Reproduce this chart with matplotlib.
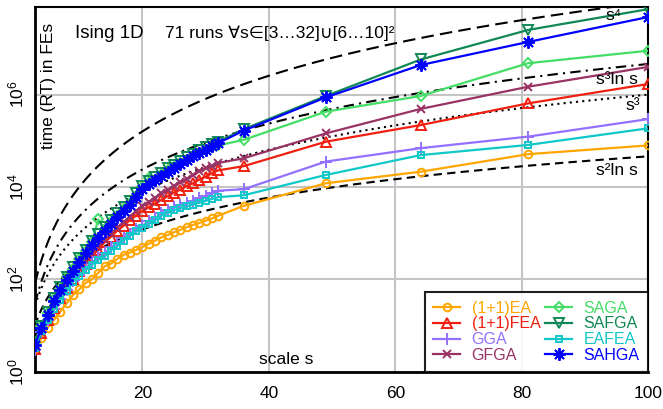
import numpy as np
import matplotlib
matplotlib.use("Agg")
import matplotlib.pyplot as plt

plt.rcParams['font.family'] = ['Liberation Sans', 'DejaVu Sans']
plt.rcParams['mathtext.default'] = 'regular'

# problem scales s
scales = list(range(3, 33)) + [36, 49, 64, 81, 100]

# log10 of runtime (FEs)
ea_log = [0.50, 0.72, 0.95, 1.12, 1.30, 1.48, 1.66, 1.78, 1.92, 2.00,
          2.14, 2.28, 2.34, 2.44, 2.53, 2.58, 2.64, 2.70, 2.77, 2.84,
          2.91, 2.96, 3.02, 3.07, 3.13, 3.18, 3.22, 3.27, 3.32, 3.38,
          3.59, 4.08, 4.33, 4.71, 4.90]
fea_log = [0.50, 0.84, 1.12, 1.38, 1.60, 1.82, 2.00, 2.18, 2.34, 2.50,
           2.64, 2.80, 2.92, 3.05, 3.16, 3.28, 3.38, 3.48, 3.56, 3.64,
           3.72, 3.80, 3.88, 3.94, 4.02, 4.08, 4.16, 4.22, 4.30, 4.36,
           4.45, 4.98, 5.34, 5.81, 6.23]
gga_log = [0.48, 0.86, 1.12, 1.36, 1.58, 1.76, 1.96, 2.10, 2.24, 2.36,
           2.48, 2.56, 2.70, 2.78, 2.90, 2.98, 3.10, 3.16, 3.26, 3.32,
           3.44, 3.50, 3.56, 3.60, 3.66, 3.70, 3.76, 3.80, 3.86, 3.92,
           3.95, 4.55, 4.84, 5.09, 5.47]
gfga_log = [0.52, 0.86, 1.15, 1.42, 1.66, 1.88, 2.06, 2.24, 2.40, 2.56,
            2.72, 2.86, 2.98, 3.12, 3.24, 3.36, 3.48, 3.58, 3.68, 3.76,
            3.86, 3.94, 4.02, 4.10, 4.18, 4.26, 4.34, 4.40, 4.46, 4.52,
            4.62, 5.16, 5.69, 6.17, 6.60]
saga_log = [0.60, 0.98, 1.28, 1.58, 1.80, 2.04, 2.22, 2.44, 2.62, 2.80,
            3.30, 3.08, 3.24, 3.38, 3.52, 3.66, 3.80, 4.00, 4.20, 4.16,
            4.26, 4.36, 4.44, 4.52, 4.58, 4.66, 4.74, 4.80, 4.86, 4.90,
            5.02, 5.63, 5.97, 6.68, 6.95]
safga_log = [0.64, 1.00, 1.30, 1.60, 1.84, 2.06, 2.26, 2.46, 2.64, 2.82,
             2.98, 3.14, 3.28, 3.44, 3.56, 3.70, 3.86, 4.02, 4.12, 4.22,
             4.30, 4.40, 4.48, 4.56, 4.64, 4.72, 4.80, 4.86, 4.92, 4.98,
             5.25, 5.97, 6.76, 7.40, 7.85]
eafea_log = [0.52, 0.88, 1.12, 1.36, 1.55, 1.74, 1.95, 2.08, 2.20, 2.32,
             2.42, 2.50, 2.62, 2.72, 2.84, 2.94, 3.04, 3.12, 3.20, 3.28,
             3.38, 3.44, 3.50, 3.54, 3.58, 3.62, 3.66, 3.70, 3.74, 3.78,
             3.82, 4.26, 4.69, 4.91, 5.27]
sahga_log = [0.58, 0.94, 1.23, 1.52, 1.77, 1.98, 2.18, 2.38, 2.56, 2.74,
             2.90, 3.05, 3.20, 3.35, 3.48, 3.62, 3.78, 3.95, 4.06, 4.15,
             4.24, 4.33, 4.42, 4.50, 4.58, 4.66, 4.74, 4.81, 4.88, 4.95,
             5.22, 5.94, 6.64, 7.14, 7.68]

names = ["(1+1)EA", "(1+1)FEA", "GGA", "GFGA", "SAGA", "SAFGA", "EAFEA", "SAHGA"]
series = [ea_log, fea_log, gga_log, gfga_log, saga_log, safga_log, eafea_log, sahga_log]
colors = ["#ffa500", "#f02010", "#9370ff", "#993366", "#44dd66", "#118855", "#11c8c8", "#0000ff"]
markers = ["o", "^", "+", "x", "D", "v", "s", (8, 2, 0)]
msizes = [5.5, 6.5, 9, 6, 5, 6.5, 4.5, 9]

fig = plt.figure(figsize=(6.63, 4.09), dpi=100)
ax = fig.add_axes([35 / 663, 1 - 371.7 / 409, 613.3 / 663, 364.4 / 409])

# reference curves
ss = np.linspace(3, 100, 400)
ax.plot(ss, ss ** 4, color="black", lw=1.5, ls=(0, (6, 3)), zorder=2)
ax.plot(ss, ss ** 3 * np.log(ss), color="black", lw=1.5, ls=(0, (5, 2.5, 1, 2.5)), zorder=2)
ax.plot(ss, ss ** 3, color="black", lw=1.5, ls=(0, (1, 2)), zorder=2)
ax.plot(ss, ss ** 2 * np.log(ss), color="black", lw=1.5, ls=(0, (4, 2.5)), zorder=2)

handles = []
for name, vals, c, m, ms in zip(names, series, colors, markers, msizes):
    y = 10 ** np.array(vals)
    h, = ax.plot(scales, y, color=c, lw=1.6, marker=m, ms=ms, mfc="none",
                 mec=c, mew=1.4, label=name, zorder=3)
    handles.append(h)

ax.set_yscale("log")
ax.set_xlim(3, 100)
ax.set_ylim(1, 10 ** 7.89)
ax.set_xticks([20, 40, 60, 80, 100])
ax.set_yticks([1, 1e2, 1e4, 1e6])
ax.yaxis.set_minor_locator(matplotlib.ticker.NullLocator())
ax.grid(True, color="#c4c4c4", lw=1.5, zorder=0)
ax.set_axisbelow(True)
ax.tick_params(axis="x", length=0, pad=10, labelsize=12.5)
ax.tick_params(axis="y", length=0, pad=6, labelsize=12.5, labelrotation=90)
for lab in ax.get_yticklabels():
    lab.set_va("center")
for sp in ax.spines.values():
    sp.set_color("black")
    sp.set_linewidth(1.5)
ax.spines["left"].set_linewidth(2)
ax.spines["bottom"].set_linewidth(2)

def axpos(X, Y):
    return (X - 35) / 613.3, (371.7 - Y) / 364.4

ax.text(*axpos(75, 33), "Ising 1D", transform=ax.transAxes, fontsize=13.5, va="center", ha="left")
ax.text(*axpos(165, 33), "71 runs \u2200s\u2208[3\u202632]\u222a[6\u202610]\u00b2",
        transform=ax.transAxes, fontsize=12.5, va="center", ha="left")
ax.text(*axpos(48.5, 23), "time (RT) in FEs", transform=ax.transAxes, fontsize=12.5,
        rotation=90, va="top", ha="center")
ax.text(*axpos(286, 360), "scale s", transform=ax.transAxes, fontsize=12.5, va="center", ha="center")
ax.text(*axpos(622, 15), "s\u2074", transform=ax.transAxes, fontsize=12.5, va="center", ha="right")
ax.text(*axpos(638, 80), "s\u00b3ln s", transform=ax.transAxes, fontsize=12.5, va="center", ha="right")
ax.text(*axpos(640, 106), "s\u00b3", transform=ax.transAxes, fontsize=12.5, va="center", ha="right")
ax.text(*axpos(638, 170), "s\u00b2ln s", transform=ax.transAxes, fontsize=12.5, va="center", ha="right")

leg = ax.legend(handles=handles, loc="lower right", ncol=2, fontsize=11.5,
                frameon=True, fancybox=False, edgecolor="black", framealpha=0.88,
                borderaxespad=0, borderpad=0.55, handlelength=1.7, handletextpad=0.7,
                columnspacing=0.3, labelspacing=0.05, labelcolor="linecolor")
leg.get_frame().set_linewidth(1.5)
leg.set_zorder(5)

fig.savefig("out.png", dpi=100)
